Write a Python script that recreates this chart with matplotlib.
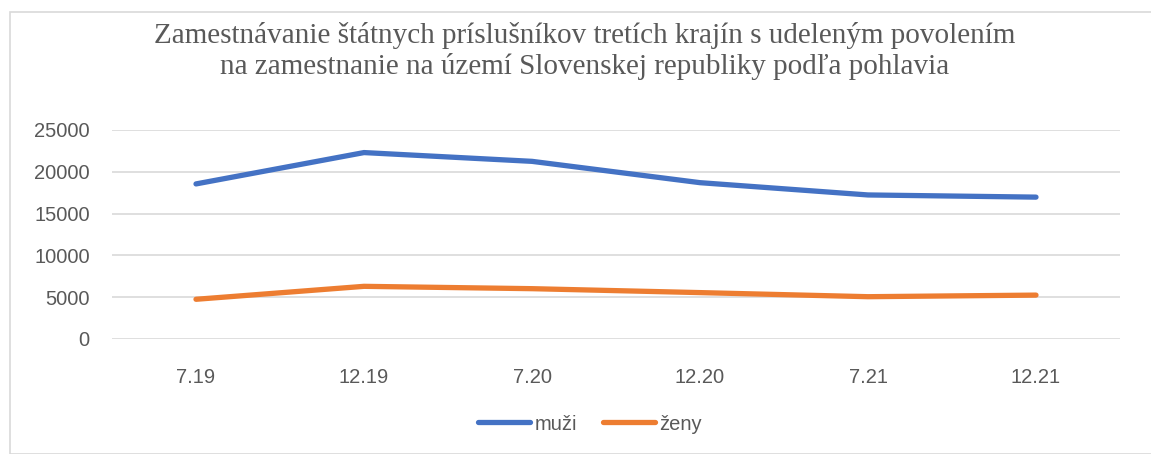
import matplotlib.pyplot as plt
from matplotlib.patches import Rectangle
from matplotlib.lines import Line2D

# data
obdobia = ["7.19", "12.19", "7.20", "12.20", "7.21", "12.21"]
muzi = [18550, 22300, 21250, 18700, 17230, 16970]
zeny = [4750, 6300, 6020, 5550, 5060, 5250]
nazov = ("Zamestnávanie štátnych príslušníkov tretích krajín s udeleným povolením\n"
         "na zamestnanie na území Slovenskej republiky podľa pohlavia")

W, H = 1151, 454
fig = plt.figure(figsize=(W / 100, H / 100), dpi=100)
fig.patch.set_facecolor("white")

# ram okolo grafu
fig.add_artist(Rectangle((10 / W, 0), 1.2, (H - 12) / H, transform=fig.transFigure,
                         fill=False, edgecolor="#D9D9D9", linewidth=1.2))

ax = fig.add_axes([112 / W, (H - 339) / H, (1120 - 112) / W, (339 - 130) / H])
x = range(len(obdobia))
ax.plot(x, muzi, color="#4472C4", linewidth=3.8, solid_capstyle="round", label="muži")
ax.plot(x, zeny, color="#ED7D31", linewidth=3.8, solid_capstyle="round", label="ženy")

ax.set_xlim(-0.5, len(obdobia) - 0.5)
ax.set_ylim(0, 25000)
ax.set_yticks(range(0, 25001, 5000))
ax.set_xticks(list(x))
ax.set_xticklabels(obdobia)
ax.grid(axis="y", color="#D9D9D9", linewidth=1.2)
ax.set_axisbelow(True)
for s in ax.spines.values():
    s.set_visible(False)
ax.tick_params(length=0, labelsize=14.5, labelcolor="#595959")
ax.tick_params(axis="y", pad=16)
ax.tick_params(axis="x", pad=21)
for t in ax.get_xticklabels() + ax.get_yticklabels():
    t.set_family("Liberation Sans")

fig.text(585 / W, 1 - 51 / H, nazov, ha="center", va="center", fontsize=21,
         family="Liberation Serif", color="#595959", linespacing=1.15)

handles = [Line2D([], [], color="#4472C4", linewidth=3.8, solid_capstyle="round"),
           Line2D([], [], color="#ED7D31", linewidth=3.8, solid_capstyle="round")]
fig.legend(handles, ["muži", "ženy"], loc="center", bbox_to_anchor=(590 / W, 1 - 424 / H),
           ncol=2, frameon=False, handlelength=2.6, handletextpad=0.2, columnspacing=1.3,
           prop={"family": "Liberation Sans", "size": 14.5}, labelcolor="#595959")

fig.savefig("out.png", dpi=100)
